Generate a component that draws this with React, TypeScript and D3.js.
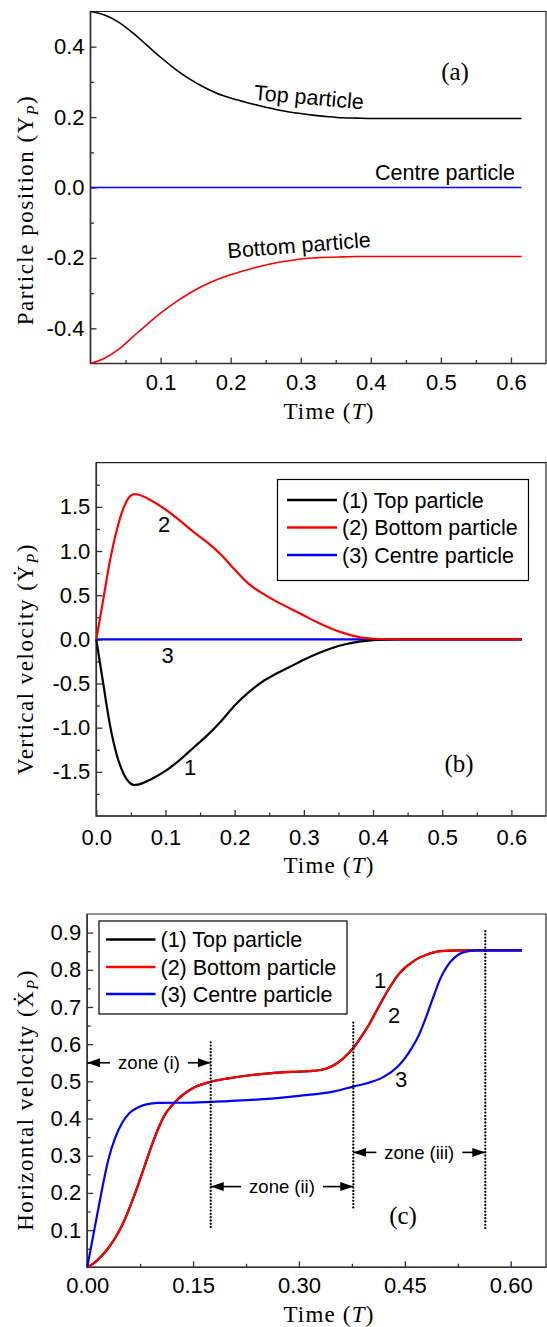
import React, { useEffect, useRef } from 'react';
import * as d3 from 'd3';

// (a) particle position vs time
const timeA = [0, 0.02, 0.04, 0.06, 0.08, 0.1, 0.12, 0.14, 0.16, 0.18, 0.2, 0.22, 0.24, 0.26, 0.28, 0.3, 0.32, 0.34, 0.36, 0.38, 0.4, 0.45, 0.5, 0.55, 0.6, 0.615];
const topPos = [0.5, 0.49, 0.47, 0.44, 0.405, 0.37, 0.338, 0.31, 0.287, 0.268, 0.254, 0.243, 0.233, 0.224, 0.216, 0.21, 0.205, 0.201, 0.198, 0.197, 0.196, 0.196, 0.196, 0.196, 0.196, 0.196];
const bottomPos = [-0.5, -0.485, -0.46, -0.425, -0.39, -0.357, -0.328, -0.302, -0.28, -0.262, -0.248, -0.236, -0.225, -0.216, -0.209, -0.203, -0.2, -0.198, -0.197, -0.196, -0.196, -0.196, -0.196, -0.196, -0.196, -0.196];
const timeFlat = [0, 0.615];
const centreFlat = [0, 0];

// (b) vertical velocity
const timeB = [0, 0.01, 0.02, 0.03, 0.04, 0.05, 0.055, 0.06, 0.08, 0.1, 0.12, 0.14, 0.16, 0.18, 0.2, 0.22, 0.24, 0.26, 0.28, 0.3, 0.32, 0.34, 0.36, 0.38, 0.4, 0.42, 0.44, 0.5, 0.55, 0.615];
const topVelY = [0, -0.5, -0.98, -1.32, -1.53, -1.635, -1.65, -1.645, -1.58, -1.49, -1.37, -1.23, -1.09, -0.93, -0.75, -0.6, -0.48, -0.39, -0.31, -0.23, -0.16, -0.1, -0.055, -0.025, -0.008, -0.002, 0, 0, 0, 0];
const bottomVelY = [0, 0.45, 0.9, 1.25, 1.5, 1.63, 1.645, 1.64, 1.57, 1.47, 1.35, 1.22, 1.1, 0.96, 0.79, 0.63, 0.52, 0.43, 0.35, 0.27, 0.19, 0.12, 0.065, 0.025, 0.007, 0.001, 0, 0, 0, 0];

// (c) horizontal velocity (top and bottom particle coincide)
const timeC = [0, 0.01, 0.02, 0.03, 0.04, 0.05, 0.06, 0.07, 0.08, 0.09, 0.1, 0.11, 0.12, 0.13, 0.14, 0.15, 0.175, 0.2, 0.225, 0.25, 0.275, 0.3, 0.32, 0.34, 0.355, 0.37, 0.38, 0.39, 0.4, 0.41, 0.42, 0.43, 0.44, 0.45, 0.46, 0.47, 0.48, 0.49, 0.5, 0.53, 0.616];
const bottomVelX = [0, 0.012, 0.03, 0.052, 0.08, 0.115, 0.16, 0.21, 0.265, 0.32, 0.37, 0.41, 0.435, 0.455, 0.47, 0.482, 0.499, 0.508, 0.515, 0.52, 0.524, 0.526, 0.528, 0.535, 0.55, 0.575, 0.597, 0.625, 0.655, 0.69, 0.725, 0.757, 0.785, 0.805, 0.82, 0.832, 0.84, 0.846, 0.85, 0.852, 0.852];
const topVelX = [0, 0.012, 0.03, 0.052, 0.08, 0.115, 0.16, 0.21, 0.265, 0.32, 0.37, 0.41, 0.435, 0.455, 0.47, 0.482, 0.499, 0.508, 0.515, 0.52, 0.524, 0.526, 0.528, 0.535, 0.55, 0.575, 0.597, 0.625, 0.655, 0.69, 0.725, 0.757, 0.785, 0.805, 0.82, 0.832, 0.84, 0.846, 0.85, 0.852, 0.852];
const timeCentreC = [0, 0.005, 0.01, 0.02, 0.03, 0.04, 0.05, 0.06, 0.07, 0.08, 0.09, 0.1, 0.15, 0.2, 0.25, 0.3, 0.35, 0.377, 0.4, 0.42, 0.44, 0.45, 0.46, 0.47, 0.48, 0.49, 0.5, 0.51, 0.52, 0.53, 0.54, 0.55, 0.616];
const centreVelX = [0, 0.05, 0.1, 0.2, 0.29, 0.35, 0.39, 0.415, 0.428, 0.436, 0.44, 0.442, 0.443, 0.447, 0.452, 0.461, 0.473, 0.486, 0.497, 0.512, 0.54, 0.562, 0.59, 0.625, 0.672, 0.725, 0.775, 0.81, 0.832, 0.845, 0.85, 0.852, 0.852];

// zone markers in (c)
const zoneLabels = ['zone (i)', 'zone (ii)', 'zone (iii)'];
const zoneStart = [0, 0.175, 0.377];
const zoneEnd = [0.175, 0.377, 0.564];
const zoneLevel = [0.55, 0.217, 0.309];
const dottedAt = [0.175, 0.377, 0.564];
const dottedFrom = [0.1, 0.154, 0.1];
const dottedTo = [0.605, 0.658, 0.904];

const legendNames = ['(1) Top particle', '(2) Bottom particle', '(3) Centre particle'];
const seriesColors = ['#000000', '#ff0000', '#0000ff'];

const SANS = "'Liberation Sans', Arial, Helvetica, sans-serif";
const SERIF = "'Liberation Serif', 'Times New Roman', serif";

const App = () => {
  const svgRef = useRef<SVGSVGElement>(null);

  useEffect(() => {
    const svg = d3.select(svgRef.current);
    svg.selectAll('*').remove();

    svg.append('defs').append('marker')
      .attr('id', 'arrowHead')
      .attr('viewBox', '0 -5 13 10')
      .attr('refX', 13)
      .attr('refY', 0)
      .attr('markerWidth', 13)
      .attr('markerHeight', 10)
      .attr('markerUnits', 'userSpaceOnUse')
      .attr('orient', 'auto')
      .append('path')
      .attr('d', 'M0,-4.5L13,0L0,4.5Z')
      .attr('fill', '#000');

    const makePanel = (o: any) => {
      const x = d3.scaleLinear().domain([0, 0.65]).range(o.xRange);
      const y = d3.scaleLinear().domain(o.yDomain).range(o.yRange);
      const g = svg.append('g');
      const [x0, x1] = o.xRange;
      const [yb, yt] = o.yRange;

      const styleAxis = (a: any) => {
        a.select('.domain').remove();
        a.selectAll('line').attr('stroke', '#333').attr('stroke-width', 1.3);
        a.selectAll('text').attr('font-family', SANS).attr('font-size', 22).attr('fill', '#000');
      };

      // minor ticks
      g.append('g').attr('transform', `translate(0,${yb})`)
        .call(d3.axisBottom(x).tickValues(o.xMinor).tickSize(-3.5).tickFormat(() => ''))
        .call(styleAxis);
      g.append('g').attr('transform', `translate(${x0},0)`)
        .call(d3.axisLeft(y).tickValues(o.yMinor).tickSize(-3.5).tickFormat(() => ''))
        .call(styleAxis);
      // major ticks
      g.append('g').attr('transform', `translate(0,${yb})`)
        .call(d3.axisBottom(x).tickValues(o.xMajor).tickSize(-6).tickPadding(o.xPad).tickFormat(o.xFmt))
        .call(styleAxis);
      g.append('g').attr('transform', `translate(${x0},0)`)
        .call(d3.axisLeft(y).tickValues(o.yMajor).tickSize(-6).tickPadding(6).tickFormat(o.yFmt))
        .call(styleAxis);

      // frame
      g.append('path')
        .attr('d', `M${x0},${yb}H${x1}V${yt}H${x0}Z`)
        .attr('fill', 'none')
        .attr('stroke', '#222')
        .attr('stroke-width', 1.2);
      g.append('path')
        .attr('d', `M${x0},${yt}V${yb}H${x1}`)
        .attr('fill', 'none')
        .attr('stroke', '#333')
        .attr('stroke-width', 1.6);

      // axis titles
      const xt = g.append('text')
        .attr('x', 329)
        .attr('y', o.xTitleY)
        .attr('text-anchor', 'middle')
        .attr('font-family', SERIF)
        .attr('font-size', 23)
        .attr('letter-spacing', 1.2);
      xt.append('tspan').text('Time (');
      xt.append('tspan').attr('font-style', 'italic').text('T');
      xt.append('tspan').text(')');

      const yt2 = g.append('text')
        .attr('transform', `translate(33,${o.yTitleY}) rotate(-90)`)
        .attr('text-anchor', 'middle')
        .attr('font-family', SERIF)
        .attr('font-size', 23)
        .attr('letter-spacing', 1.5);
      yt2.append('tspan').text(o.yTitle);
      yt2.append('tspan').attr('font-style', 'italic').attr('font-size', 16).attr('dy', 5).text('P');
      yt2.append('tspan').attr('dy', -5).text(')');

      return { x, y, g };
    };

    const drawLine = (p: any, xs: number[], ys: number[], color: string, width: number) => {
      const pts = xs.map((t, i) => [t, ys[i]] as [number, number]);
      p.g.append('path')
        .datum(pts)
        .attr('fill', 'none')
        .attr('stroke', color)
        .attr('stroke-width', width)
        .attr('stroke-linejoin', 'round')
        .attr('d', d3.line<[number, number]>()
          .x(d => p.x(d[0]))
          .y(d => p.y(d[1]))
          .curve(d3.curveMonotoneX));
    };

    const note = (p: any, txt: string, cx: number, cy: number, size: number, font: string, angle = 0) => {
      p.g.append('text')
        .attr('transform', `translate(${cx},${cy}) rotate(${angle})`)
        .attr('text-anchor', 'middle')
        .attr('dy', '0.35em')
        .attr('font-family', font)
        .attr('font-size', size)
        .text(txt);
    };

    const legend = (p: any, bx: number, by: number, bw: number, bh: number, rowY: number[], lx0: number, lx1: number) => {
      p.g.append('rect')
        .attr('x', bx).attr('y', by).attr('width', bw).attr('height', bh)
        .attr('fill', '#fff').attr('stroke', '#000').attr('stroke-width', 1.2);
      legendNames.forEach((name, i) => {
        p.g.append('line')
          .attr('x1', lx0).attr('x2', lx1).attr('y1', rowY[i]).attr('y2', rowY[i])
          .attr('stroke', seriesColors[i]).attr('stroke-width', 2.4);
        p.g.append('text')
          .attr('x', lx1 + 5).attr('y', rowY[i]).attr('dy', '0.35em')
          .attr('font-family', SANS).attr('font-size', 21.5)
          .text(name);
      });
    };

    // ---------- (a)
    const pa = makePanel({
      xRange: [90.5, 546], yDomain: [-0.5, 0.5], yRange: [363.5, 11.5],
      xMajor: [0.1, 0.2, 0.3, 0.4, 0.5, 0.6], xMinor: [0.05, 0.15, 0.25, 0.35, 0.45, 0.55],
      yMajor: [-0.4, -0.2, 0, 0.2, 0.4], yMinor: [-0.3, -0.1, 0.1, 0.3],
      xFmt: d3.format('.1f'), yFmt: (d: number) => d3.format('.1f')(d).replace('−', '-'),
      xPad: 10.5, xTitleY: 419, yTitleY: 210, yTitle: 'Particle position (Y',
    });
    drawLine(pa, timeFlat, centreFlat, '#0000ff', 1.6);
    drawLine(pa, timeA, topPos, '#000', 1.6);
    drawLine(pa, timeA, bottomPos, '#ff0000', 1.6);
    note(pa, 'Top particle', 309, 97, 21.5, SANS, 5);
    note(pa, 'Centre particle', 445, 172, 21.5, SANS);
    note(pa, 'Bottom particle', 299, 245, 21.5, SANS, -4.5);
    note(pa, '(a)', 455, 71, 25, SERIF);

    // ---------- (b)
    const pb = makePanel({
      xRange: [96.3, 546], yDomain: [-2, 2], yRange: [816, 462.7],
      xMajor: [0, 0.1, 0.2, 0.3, 0.4, 0.5, 0.6], xMinor: [0.05, 0.15, 0.25, 0.35, 0.45, 0.55],
      yMajor: [-1.5, -1, -0.5, 0, 0.5, 1, 1.5], yMinor: [-1.75, -1.25, -0.75, -0.25, 0.25, 0.75, 1.25, 1.75],
      xFmt: d3.format('.1f'), yFmt: (d: number) => d3.format('.1f')(d).replace('−', '-'),
      xPad: 13, xTitleY: 873, yTitleY: 659, yTitle: 'Vertical velocity (\u1E8E',
    });
    drawLine(pb, timeFlat, centreFlat, '#0000ff', 2.2);
    drawLine(pb, timeB, topVelY, '#000', 2.2);
    drawLine(pb, timeB, bottomVelY, '#ff0000', 2.2);
    legend(pb, 277.5, 479.5, 251, 101, [500, 527.5, 555], 287, 337);
    note(pb, '2', 164, 524, 22, SANS);
    note(pb, '3', 167.5, 655, 22, SANS);
    note(pb, '1', 190, 767, 22, SANS);
    note(pb, '(b)', 459, 763, 25, SERIF);

    // ---------- (c)
    const pc = makePanel({
      xRange: [87.2, 546], yDomain: [0, 0.95], yRange: [1267.3, 914],
      xMajor: [0, 0.15, 0.3, 0.45, 0.6], xMinor: [0.075, 0.225, 0.375, 0.525],
      yMajor: [0.1, 0.2, 0.3, 0.4, 0.5, 0.6, 0.7, 0.8, 0.9],
      yMinor: [0.05, 0.15, 0.25, 0.35, 0.45, 0.55, 0.65, 0.75, 0.85],
      xFmt: d3.format('.2f'), yFmt: d3.format('.1f'),
      xPad: 10, xTitleY: 1322, yTitleY: 1100, yTitle: 'Horizontal velocity (\u1E8A',
    });
    drawLine(pc, timeC, topVelX, '#000', 2.2);
    drawLine(pc, timeC, bottomVelX, '#ff0000', 2.2);
    drawLine(pc, timeCentreC, centreVelX, '#0000ff', 2.2);

    dottedAt.forEach((t, i) => {
      pc.g.append('line')
        .attr('x1', pc.x(t)).attr('x2', pc.x(t))
        .attr('y1', pc.y(dottedTo[i])).attr('y2', pc.y(dottedFrom[i]))
        .attr('stroke', '#000').attr('stroke-width', 2.3)
        .attr('stroke-linecap', 'round')
        .attr('stroke-dasharray', '0 3.3');
    });

    zoneLabels.forEach((lab, i) => {
      const xa = pc.x(zoneStart[i]);
      const xb = pc.x(zoneEnd[i]);
      const yy = pc.y(zoneLevel[i]);
      const t = pc.g.append('text')
        .attr('x', (xa + xb) / 2).attr('y', yy).attr('dy', '0.35em')
        .attr('text-anchor', 'middle')
        .attr('font-family', SANS).attr('font-size', 18.5)
        .text(lab);
      const w = (t.node() as SVGTextElement).getComputedTextLength();
      const mid = (xa + xb) / 2;
      pc.g.append('line')
        .attr('x1', mid - w / 2 - 8).attr('x2', xa).attr('y1', yy).attr('y2', yy)
        .attr('stroke', '#000').attr('stroke-width', 1.6).attr('marker-end', 'url(#arrowHead)');
      pc.g.append('line')
        .attr('x1', mid + w / 2 + 8).attr('x2', xb).attr('y1', yy).attr('y2', yy)
        .attr('stroke', '#000').attr('stroke-width', 1.6).attr('marker-end', 'url(#arrowHead)');
    });

    legend(pc, 99, 921, 248, 93, [939.5, 967, 994], 106, 155.5);
    note(pc, '1', 380, 980, 22, SANS);
    note(pc, '2', 394, 1015, 22, SANS);
    note(pc, '3', 401, 1079, 22, SANS);
    note(pc, '(c)', 403, 1215, 25, SERIF);
  }, []);

  return (
    <svg
      ref={svgRef}
      width={547}
      height={1327}
      style={{ position: 'absolute', left: 0, top: 0, background: '#fff' }}
    />
  );
};

export default App;
